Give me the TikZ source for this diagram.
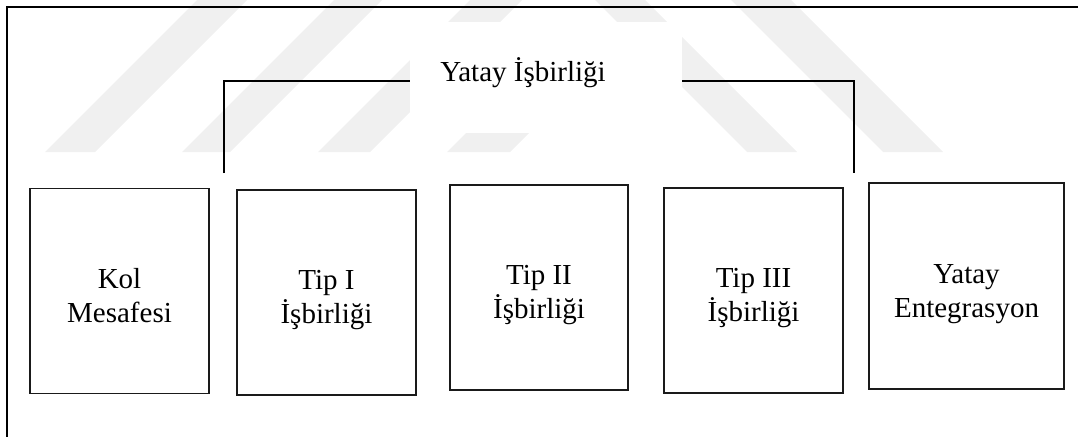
\documentclass[tikz,border=0pt]{standalone}
\usepackage{fontspec}
\setmainfont{Liberation Serif}
\usepackage{tikz}
\definecolor{kenar}{HTML}{1A1A1A}
\definecolor{filigran}{HTML}{F0F0F0}
\tikzset{
  kutu/.style={draw=kenar, line width=1.3pt, minimum width=179pt, minimum height=205pt, inner sep=0pt},
  yazi/.style={font=\fontsize{29}{34}\selectfont, align=center, inner sep=0pt},
  cizgi/.style={draw=black, line width=1.1pt},
  cerceve/.style={draw=black, line width=2.8pt},
  serit/.style={fill=filigran},
  ortu/.style={fill=white, inner sep=0pt},
}

\begin{document}
\begin{tikzpicture}[x=1pt, y=-1pt]
  \useasboundingbox (0,0) rectangle (1078,437);
  % filigran seritleri
  \foreach \a/\w in {45/50, 182/48, 318/52}
    \fill[serit] (\a,152) -- ++(\w,0) -- ++(152,-152) -- ++(-\w,0) -- cycle;
  \foreach \a/\w in {747/50, 883/60}
    \fill[serit] (\a,152) -- ++(\w,0) -- ++(-152,-152) -- ++(-\w,0) -- cycle;
  \fill[serit] (447,152) -- (510,152) -- (529,133) -- (466,133) -- cycle;
  \node[ortu, minimum width=272pt, minimum height=111pt] (beyaz) at (546,77.5) {};

  \draw[cerceve] (1078,7) -- (7,7) -- (7,437);

  \node[kutu] (kol) at (119.5,291) {};
  \node[kutu] (tip1) at (326.5,292.5) {};
  \node[kutu, minimum width=178pt] (tip2) at (539,287.5) {};
  \node[kutu] (tip3) at (753.5,290.5) {};
  \node[kutu, minimum width=195pt, minimum height=206pt] (entegre) at (966.5,286) {};

  \node[yazi] (kolYazi) at ([yshift=-5pt]kol.center) {Kol\\Mesafesi};
  \node[yazi] (tip1Yazi) at ([yshift=-8pt]tip1.center) {Tip I\\İşbirliği};
  \node[yazi] (tip2Yazi) at ([yshift=-8pt]tip2.center) {Tip II\\İşbirliği};
  \node[yazi] (tip3Yazi) at ([yshift=-8pt]tip3.center) {Tip III\\İşbirliği};
  \node[yazi] (entegreYazi) at ([yshift=-8pt]entegre.center) {Yatay\\Entegrasyon};

  \node[yazi, anchor=base] (baslik) at (523,81) {Yatay İşbirliği};
  \coordinate (solUc) at (224,173);
  \coordinate (sagUc) at (854,173);
  \draw[cizgi] (solUc) |- (beyaz.west |- baslik.base);
  \draw[cizgi] (beyaz.east |- baslik.base) -| (sagUc);
\end{tikzpicture}
\end{document}
